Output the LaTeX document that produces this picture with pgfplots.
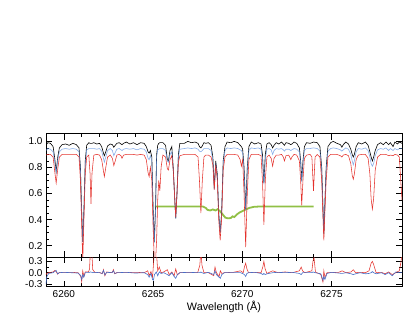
\documentclass[border=0pt]{standalone}
\usepackage{pgfplots}
\usepackage{pgfplotstable}
\pgfplotsset{compat=1.18}
\usepackage{fontspec}
\setmainfont{Liberation Sans}
\definecolor{lblue}{RGB}{95,145,225}
\definecolor{rred}{RGB}{228,50,45}
\definecolor{ggreen}{RGB}{145,192,70}
\definecolor{rblue}{RGB}{70,110,200}

\pgfplotstableread{
lam blk blu red
6259.00 0.970 0.930 0.895
6259.10 0.990 0.945 0.900
6259.25 0.985 0.940 0.900
6259.40 0.960 0.920 0.880
6259.48 0.880 0.850 0.780
6259.57 0.770 0.760 0.680
6259.66 0.880 0.860 0.790
6259.75 0.950 0.920 0.880
6259.90 0.975 0.940 0.900
6260.10 0.980 0.945 0.900
6260.30 0.970 0.940 0.900
6260.50 0.985 0.945 0.900
6260.70 0.975 0.940 0.900
6260.85 0.950 0.920 0.880
6260.93 0.800 0.780 0.700
6260.99 0.500 0.490 0.400
6261.06 0.230 0.230 0.080
6261.13 0.500 0.490 0.420
6261.20 0.850 0.820 0.750
6261.28 0.970 0.935 0.880
6261.40 0.990 0.945 0.895
6261.47 0.985 0.945 0.750
6261.52 0.985 0.945 0.520
6261.58 0.985 0.945 0.760
6261.68 0.990 0.945 0.895
6261.85 0.980 0.940 0.900
6262.00 0.985 0.945 0.895
6262.12 0.960 0.925 0.860
6262.20 0.920 0.880 0.790
6262.27 0.890 0.840 0.730
6262.35 0.920 0.880 0.800
6262.45 0.965 0.930 0.880
6262.60 0.980 0.945 0.895
6262.72 0.975 0.930 0.870
6262.80 0.955 0.890 0.815
6262.88 0.970 0.915 0.850
6262.97 0.985 0.940 0.895
6263.10 0.990 0.945 0.900
6263.20 0.980 0.935 0.890
6263.26 0.975 0.930 0.870
6263.35 0.985 0.940 0.895
6263.50 0.995 0.945 0.900
6263.70 0.980 0.940 0.900
6263.90 0.990 0.945 0.900
6264.10 0.975 0.935 0.895
6264.30 0.990 0.945 0.900
6264.50 0.985 0.940 0.895
6264.62 0.960 0.920 0.860
6264.72 0.920 0.870 0.760
6264.78 0.910 0.860 0.730
6264.85 0.930 0.890 0.800
6264.93 0.880 0.850 0.700
6265.00 0.500 0.480 0.350
6265.07 0.230 0.220 0.080
6265.14 0.500 0.480 0.080
6265.20 0.900 0.880 0.250
6265.26 0.970 0.935 0.550
6265.32 0.985 0.940 0.700
6265.38 0.990 0.945 0.620
6265.45 0.990 0.945 0.800
6265.55 0.990 0.945 0.895
6265.70 0.970 0.930 0.880
6265.80 0.860 0.850 0.790
6265.86 0.850 0.840 0.780
6265.95 0.930 0.900 0.860
6266.05 0.960 0.920 0.890
6266.13 0.800 0.780 0.780
6266.20 0.600 0.590 0.600
6266.27 0.410 0.410 0.420
6266.34 0.600 0.590 0.600
6266.42 0.900 0.880 0.840
6266.50 0.985 0.940 0.890
6266.75 0.985 0.945 0.900
6266.95 1.000 0.950 0.900
6267.15 0.990 0.945 0.900
6267.35 0.995 0.950 0.900
6267.52 0.985 0.940 0.880
6267.60 0.960 0.925 0.700
6267.68 0.950 0.920 0.450
6267.76 0.965 0.930 0.700
6267.85 0.990 0.945 0.880
6267.95 0.985 0.945 0.895
6268.10 0.990 0.945 0.895
6268.25 0.970 0.930 0.880
6268.35 0.880 0.860 0.820
6268.43 0.640 0.630 0.630
6268.51 0.850 0.830 0.820
6268.60 0.750 0.730 0.700
6268.68 0.450 0.440 0.400
6268.76 0.300 0.300 0.240
6268.84 0.450 0.440 0.400
6268.93 0.850 0.830 0.780
6269.03 0.960 0.930 0.880
6269.15 0.995 0.950 0.900
6269.35 0.990 0.945 0.900
6269.55 1.000 0.950 0.900
6269.75 0.990 0.945 0.895
6269.88 0.970 0.935 0.860
6269.95 0.960 0.930 0.810
6270.02 0.940 0.910 0.860
6270.10 0.800 0.780 0.600
6270.19 0.480 0.470 0.190
6270.28 0.800 0.780 0.600
6270.37 0.960 0.930 0.860
6270.50 0.995 0.950 0.900
6270.70 0.980 0.945 0.900
6270.90 0.990 0.950 0.900
6271.05 0.980 0.940 0.890
6271.13 0.900 0.870 0.700
6271.21 0.680 0.670 0.360
6271.29 0.900 0.870 0.700
6271.38 0.980 0.940 0.880
6271.50 0.990 0.945 0.895
6271.62 0.975 0.935 0.870
6271.70 0.950 0.900 0.810
6271.78 0.970 0.930 0.870
6271.90 0.990 0.945 0.895
6272.05 0.980 0.940 0.895
6272.20 0.995 0.945 0.900
6272.30 0.980 0.935 0.880
6272.36 0.970 0.925 0.850
6272.45 0.990 0.940 0.890
6272.60 0.985 0.940 0.895
6272.72 0.975 0.930 0.860
6272.78 0.980 0.935 0.880
6272.90 0.995 0.945 0.900
6273.05 0.985 0.940 0.895
6273.20 0.950 0.920 0.850
6273.27 0.850 0.830 0.700
6273.33 0.700 0.690 0.510
6273.40 0.850 0.830 0.700
6273.48 0.960 0.930 0.870
6273.60 0.990 0.945 0.895
6273.80 0.985 0.945 0.900
6273.90 0.990 0.948 0.880
6273.99 0.995 0.950 0.620
6274.08 0.993 0.948 0.880
6274.20 0.990 0.945 0.900
6274.35 0.960 0.925 0.880
6274.45 0.800 0.780 0.700
6274.52 0.500 0.490 0.420
6274.57 0.290 0.290 0.240
6274.62 0.500 0.490 0.420
6274.70 0.800 0.780 0.700
6274.80 0.960 0.925 0.880
6274.95 0.990 0.945 0.900
6275.10 1.000 0.950 0.900
6275.30 0.985 0.945 0.900
6275.50 0.975 0.935 0.890
6275.58 0.955 0.925 0.880
6275.66 0.975 0.935 0.895
6275.80 0.995 0.950 0.900
6275.95 0.980 0.940 0.890
6276.08 0.940 0.900 0.830
6276.16 0.900 0.850 0.740
6276.22 0.880 0.820 0.710
6276.28 0.900 0.850 0.750
6276.38 0.960 0.920 0.860
6276.50 0.990 0.945 0.895
6276.70 0.980 0.940 0.900
6276.90 0.995 0.950 0.900
6277.05 0.970 0.930 0.870
6277.15 0.920 0.880 0.750
6277.22 0.880 0.830 0.560
6277.29 0.850 0.810 0.480
6277.36 0.880 0.830 0.560
6277.45 0.930 0.890 0.780
6277.58 0.975 0.935 0.880
6277.75 0.990 0.945 0.900
6277.90 0.975 0.940 0.900
6278.05 0.995 0.950 0.900
6278.20 0.975 0.930 0.890
6278.30 0.990 0.945 0.895
6278.45 0.960 0.930 0.890
6278.55 0.995 0.945 0.900
6278.70 0.980 0.935 0.895
6278.80 0.995 0.945 0.880
6278.88 0.990 0.945 0.700
6278.95 0.985 0.945 0.550
}\spectra

\pgfplotstableread{
lam g
6265.10 0.500
6267.80 0.500
6267.95 0.490
6268.05 0.475
6268.20 0.470
6268.35 0.478
6268.50 0.470
6268.62 0.480
6268.75 0.465
6268.90 0.440
6269.05 0.415
6269.20 0.410
6269.35 0.412
6269.45 0.425
6269.55 0.420
6269.70 0.440
6269.85 0.455
6270.00 0.465
6270.20 0.478
6270.40 0.490
6270.65 0.498
6270.90 0.500
6274.00 0.500
}\green

\pgfplotstableread{
lam rr rb
6259.00 -0.05 -0.30
6259.05 -0.02 -0.10
6259.15 0.00 -0.02
6259.40 0.02 0.00
6259.50 0.06 0.04
6259.57 0.03 0.06
6259.65 -0.04 -0.03
6259.75 0.01 0.00
6260.00 0.00 0.01
6260.40 0.01 0.00
6260.80 0.00 -0.01
6260.95 -0.10 -0.08
6261.00 -0.24 -0.18
6261.06 0.05 -0.05
6261.12 -0.10 -0.12
6261.20 0.02 0.00
6261.38 0.02 0.00
6261.44 0.10 0.01
6261.49 0.60 0.02
6261.56 0.60 0.01
6261.62 0.08 0.00
6261.75 0.00 0.01
6262.00 0.01 0.00
6262.15 -0.03 -0.02
6262.22 0.08 0.06
6262.30 -0.08 -0.06
6262.40 0.02 0.01
6262.70 0.00 0.00
6262.78 0.08 0.05
6262.85 -0.03 -0.02
6263.00 0.01 0.00
6263.50 0.00 0.01
6264.00 0.01 -0.01
6264.50 0.00 0.00
6264.70 0.05 -0.05
6264.78 -0.08 -0.12
6264.88 0.03 -0.02
6264.97 -0.12 -0.18
6265.02 0.20 -0.20
6265.08 0.60 -0.05
6265.18 0.60 0.02
6265.26 0.05 -0.08
6265.35 0.15 0.02
6265.45 0.00 -0.02
6265.60 0.02 0.00
6265.80 0.08 -0.05
6265.90 -0.05 -0.08
6266.05 0.02 0.00
6266.18 -0.08 -0.10
6266.27 0.10 -0.15
6266.36 -0.06 -0.05
6266.50 0.00 0.00
6267.00 0.01 0.01
6267.50 0.00 0.00
6267.62 0.20 0.00
6267.68 0.60 0.02
6267.74 0.20 0.00
6267.85 0.00 -0.02
6268.10 0.00 0.01
6268.40 -0.08 -0.05
6268.47 0.15 0.05
6268.55 0.00 -0.05
6268.70 -0.10 -0.12
6268.77 0.05 -0.15
6268.85 -0.02 -0.05
6269.00 0.00 0.00
6269.50 0.01 0.00
6269.90 0.05 0.00
6270.05 0.00 -0.03
6270.12 0.15 -0.05
6270.19 0.25 -0.10
6270.26 0.10 -0.02
6270.35 0.00 0.00
6270.70 0.01 0.01
6271.05 0.00 -0.02
6271.15 0.15 -0.05
6271.21 0.30 -0.02
6271.28 0.10 -0.05
6271.38 -0.02 -0.03
6271.70 0.05 0.00
6272.00 0.00 0.01
6272.40 0.02 0.00
6272.80 0.00 0.01
6273.20 0.05 -0.02
6273.30 0.15 -0.05
6273.38 0.05 0.00
6273.50 0.00 0.00
6273.90 0.05 0.00
6273.96 0.30 0.02
6274.02 0.40 0.01
6274.10 0.02 0.00
6274.40 -0.05 -0.03
6274.52 -0.25 -0.20
6274.57 0.05 -0.10
6274.63 -0.12 -0.18
6274.75 0.00 -0.02
6275.00 0.00 0.01
6275.40 0.01 -0.01
6275.60 0.05 -0.02
6275.80 0.00 0.00
6276.10 0.02 -0.03
6276.22 0.08 -0.05
6276.35 0.00 -0.03
6276.60 0.01 0.00
6276.90 0.00 -0.03
6277.10 0.05 -0.02
6277.22 0.25 0.00
6277.29 0.30 0.03
6277.36 0.22 0.00
6277.50 0.00 -0.03
6277.80 0.01 0.00
6278.00 -0.03 -0.05
6278.20 0.02 0.00
6278.40 -0.05 -0.08
6278.60 0.00 0.02
6278.80 0.05 0.00
6278.90 0.30 0.00
6278.95 0.60 0.00
}\resid

\begin{document}
\begin{tikzpicture}
\path[use as bounding box] (0,0) rectangle (407pt,315pt);
\pgfplotsset{
  every axis/.append style={
    scale only axis,
    width=356pt,
    xmin=6259, xmax=6278.95,
    xtick={6260,6265,6270,6275},
    minor x tick num=4,
    tick align=inside,
    major tick length=6pt,
    minor tick length=3.5pt,
    tick style={black, line width=0.5pt},
    axis line style={line width=0.6pt},
    tick label style={font=\fontsize{10}{11}\selectfont},
    label style={font=\fontsize{10.8}{12}\selectfont},
    /pgf/number format/assume math mode=true,
    /pgf/number format/fixed,
    /pgf/number format/fixed zerofill,
    /pgf/number format/precision=1,
    clip=true,
  },
}
\begin{axis}[
  at={(46pt,57.7pt)}, anchor=south west,
  height=123.6pt,
  ymin=0.111, ymax=1.059,
  ytick={0.2,0.4,0.6,0.8,1.0},
  minor y tick num=3,
  xticklabels={},
]
\addplot[ggreen, line width=1.8pt] table[x=lam, y=g] {\green};
\addplot[black, line width=0.6pt] table[x=lam, y=blk] {\spectra};
\addplot[lblue, opacity=0.75, line width=0.6pt] table[x=lam, y=blu] {\spectra};
\addplot[rred, line width=0.55pt] table[x=lam, y=red] {\spectra};
\end{axis}
\begin{axis}[
  at={(46pt,28.3pt)}, anchor=south west,
  height=29.4pt,
  ymin=-0.372, ymax=0.409,
  ytick={-0.3,0,0.3},
  minor y tick num=1,
  xticklabel style={/pgf/number format/.cd, fixed, precision=0, 1000 sep={}},
  xlabel={Wavelength (Å)},
  xlabel style={yshift=3pt},
]
\addplot[rred, line width=0.55pt] table[x=lam, y=rr] {\resid};
\addplot[rblue, line width=0.6pt] table[x=lam, y=rb] {\resid};
\end{axis}
\end{tikzpicture}
\end{document}
